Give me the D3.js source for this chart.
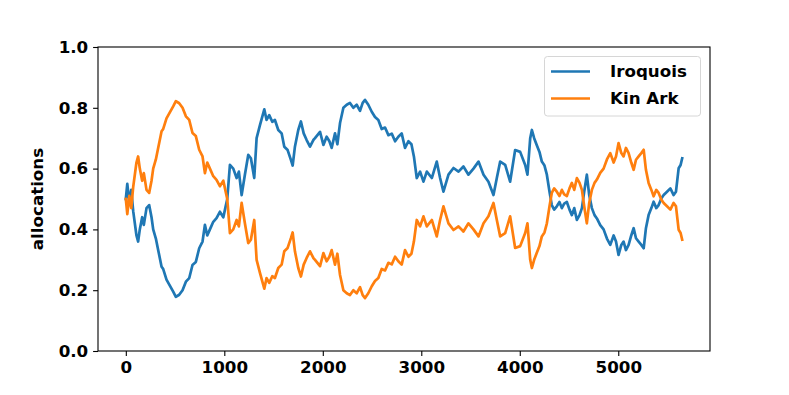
<!DOCTYPE html>
<html>
<head>
<meta charset="utf-8">
<script src="https://cdn.jsdelivr.net/npm/d3@7"></script>
<style>
    body { margin: 0; background: #fff; }
    text { font-family: "DejaVu Sans", sans-serif; font-weight: bold; }
</style>
</head>
<body>
<div id="chart"></div>
<script>
//DATA
const seriesNames = ['Iroquois', 'Kin Ark'];
const seriesColors = ['#1f77b4', '#ff7f0e'];
const xTicks = [0, 1000, 2000, 3000, 4000, 5000];
const yTicks = [0.0, 0.2, 0.4, 0.6, 0.8, 1.0];
const steps = [
    0, 15, 35, 55, 75, 108, 125, 142, 166, 183, 210, 237, 261, 278, 305, 330, 363, 379, 413, 447,
    481, 508, 542, 576, 610, 644, 677, 711, 745, 779, 803, 827, 854, 888, 921, 955, 990, 1010, 1030, 1057,
    1091, 1125, 1148, 1176, 1209, 1243, 1270, 1304, 1328, 1362, 1406, 1429, 1456, 1487, 1514, 1548, 1582, 1609, 1643, 1677,
    1694, 1717, 1751, 1778, 1806, 1836, 1870, 1904, 1921, 1972, 2006, 2039, 2067, 2090, 2124, 2148, 2175, 2209, 2243, 2276,
    2310, 2344, 2378, 2405, 2429, 2462, 2497, 2530, 2564, 2598, 2632, 2666, 2700, 2734, 2767, 2801, 2835, 2869, 2900, 2925,
    2954, 2988, 3022, 3056, 3107, 3157, 3191, 3225, 3276, 3327, 3378, 3428, 3479, 3530, 3581, 3632, 3682, 3733, 3767, 3801,
    3852, 3902, 3953, 4004, 4055, 4078, 4106, 4123, 4146, 4173, 4200, 4224, 4251, 4275, 4302, 4325, 4349, 4376, 4403, 4427,
    4451, 4478, 4505, 4529, 4553, 4580, 4607, 4631, 4654, 4681, 4705, 4732, 4759, 4783, 4817, 4851, 4885, 4919, 4953, 4977,
    5003, 5031, 5054, 5078, 5105, 5132, 5156, 5180, 5207, 5234, 5258, 5281, 5308, 5336, 5359, 5386, 5410, 5437, 5461, 5495,
    5529, 5562, 5586, 5613, 5633, 5649
];
const iroquois = [
    0.500, 0.550, 0.490, 0.530, 0.460, 0.380, 0.360, 0.400, 0.440, 0.415, 0.470, 0.480, 0.440, 0.400, 0.370, 0.330, 0.277, 0.270, 0.235, 0.215,
    0.195, 0.178, 0.185, 0.200, 0.228, 0.240, 0.283, 0.293, 0.338, 0.360, 0.415, 0.380, 0.400, 0.425, 0.437, 0.458, 0.440, 0.470, 0.500, 0.612,
    0.600, 0.569, 0.590, 0.513, 0.580, 0.645, 0.634, 0.569, 0.700, 0.743, 0.795, 0.760, 0.776, 0.754, 0.760, 0.727, 0.716, 0.672, 0.661, 0.628,
    0.610, 0.672, 0.727, 0.755, 0.716, 0.694, 0.672, 0.694, 0.700, 0.721, 0.678, 0.705, 0.690, 0.668, 0.716, 0.680, 0.750, 0.800, 0.810, 0.816,
    0.800, 0.810, 0.790, 0.816, 0.826, 0.810, 0.787, 0.770, 0.760, 0.730, 0.735, 0.710, 0.715, 0.690, 0.705, 0.716, 0.668, 0.690, 0.680, 0.640,
    0.569, 0.590, 0.557, 0.590, 0.569, 0.623, 0.569, 0.524, 0.580, 0.602, 0.590, 0.607, 0.580, 0.600, 0.623, 0.580, 0.557, 0.513, 0.569, 0.623,
    0.612, 0.557, 0.661, 0.655, 0.612, 0.580, 0.700, 0.727, 0.700, 0.677, 0.655, 0.623, 0.610, 0.580, 0.524, 0.480, 0.465, 0.476, 0.490, 0.470,
    0.485, 0.490, 0.465, 0.447, 0.470, 0.431, 0.447, 0.470, 0.524, 0.580, 0.513, 0.470, 0.447, 0.436, 0.414, 0.400, 0.370, 0.349, 0.380, 0.360,
    0.316, 0.349, 0.360, 0.332, 0.349, 0.380, 0.404, 0.371, 0.360, 0.349, 0.338, 0.404, 0.447, 0.470, 0.491, 0.470, 0.480, 0.502, 0.513, 0.524,
    0.535, 0.513, 0.524, 0.601, 0.612, 0.634
];
const kinArk = [
    0.500, 0.450, 0.510, 0.470, 0.540, 0.620, 0.640, 0.600, 0.560, 0.585, 0.530, 0.520, 0.560, 0.600, 0.630, 0.670, 0.723, 0.730, 0.765, 0.785,
    0.805, 0.822, 0.815, 0.800, 0.772, 0.760, 0.717, 0.707, 0.662, 0.640, 0.585, 0.620, 0.600, 0.575, 0.563, 0.542, 0.560, 0.530, 0.500, 0.388,
    0.400, 0.431, 0.410, 0.487, 0.420, 0.355, 0.366, 0.431, 0.300, 0.257, 0.205, 0.240, 0.224, 0.246, 0.240, 0.273, 0.284, 0.328, 0.339, 0.372,
    0.390, 0.328, 0.273, 0.245, 0.284, 0.306, 0.328, 0.306, 0.300, 0.279, 0.322, 0.295, 0.310, 0.332, 0.284, 0.320, 0.250, 0.200, 0.190, 0.184,
    0.200, 0.190, 0.210, 0.184, 0.174, 0.190, 0.213, 0.230, 0.240, 0.270, 0.265, 0.290, 0.285, 0.310, 0.295, 0.284, 0.332, 0.310, 0.320, 0.360,
    0.431, 0.410, 0.443, 0.410, 0.431, 0.377, 0.431, 0.476, 0.420, 0.398, 0.410, 0.393, 0.420, 0.400, 0.377, 0.420, 0.443, 0.487, 0.431, 0.377,
    0.388, 0.443, 0.339, 0.345, 0.388, 0.420, 0.300, 0.273, 0.300, 0.323, 0.345, 0.377, 0.390, 0.420, 0.476, 0.520, 0.535, 0.524, 0.510, 0.530,
    0.515, 0.510, 0.535, 0.553, 0.530, 0.569, 0.553, 0.530, 0.476, 0.420, 0.487, 0.530, 0.553, 0.564, 0.586, 0.600, 0.630, 0.651, 0.620, 0.640,
    0.684, 0.651, 0.640, 0.668, 0.651, 0.620, 0.596, 0.629, 0.640, 0.651, 0.662, 0.596, 0.553, 0.530, 0.509, 0.530, 0.520, 0.498, 0.487, 0.476,
    0.465, 0.487, 0.476, 0.399, 0.388, 0.366
];

//LAYOUT
const W = 789, H = 395;
const plot = { left: 98, right: 710, top: 47, bottom: 351 };
const fontSize = 16.7;

const svg = d3.select('#chart').append('svg').attr('width', W).attr('height', H);

//SCALES
const x = d3.scaleLinear().domain([-282.45, 5931.45]).range([plot.left, plot.right]);
const y = d3.scaleLinear().domain([0, 1]).range([plot.bottom, plot.top]);

//LINES
const line = d3.line().x(d => x(d[0])).y(d => y(d[1]));
svg.append('clipPath').attr('id', 'clip').append('rect')
    .attr('x', plot.left).attr('y', plot.top)
    .attr('width', plot.right - plot.left).attr('height', plot.bottom - plot.top);
[iroquois, kinArk].forEach((values, i) => {
    svg.append('path')
        .datum(steps.map((s, j) => [s, values[j]]))
        .attr('clip-path', 'url(#clip)')
        .attr('fill', 'none')
        .attr('stroke', seriesColors[i])
        .attr('stroke-width', 2.7)
        .attr('stroke-linejoin', 'round')
        .attr('stroke-linecap', 'square')
        .attr('d', line);
});

//AXES
const xAxis = svg.append('g').attr('transform', 'translate(0,' + plot.bottom + ')')
    .call(d3.axisBottom(x).tickValues(xTicks).tickSize(4.9).tickPadding(4.9).tickFormat(d3.format('d')));
const yAxis = svg.append('g').attr('transform', 'translate(' + plot.left + ',0)')
    .call(d3.axisLeft(y).tickValues(yTicks).tickSize(4.9).tickPadding(4.9).tickFormat(d3.format('.1f')));
[xAxis, yAxis].forEach(g => {
    g.select('.domain').remove();
    g.selectAll('.tick line').attr('stroke', '#000').attr('stroke-width', 1.1);
    g.selectAll('.tick text').attr('fill', '#000').style('font-size', fontSize + 'px');
});

// frame
svg.append('rect')
    .attr('x', plot.left).attr('y', plot.top)
    .attr('width', plot.right - plot.left).attr('height', plot.bottom - plot.top)
    .attr('fill', 'none').attr('stroke', '#000').attr('stroke-width', 1.1);

//Y LABEL
svg.append('text')
    .attr('transform', 'translate(43,' + ((plot.top + plot.bottom) / 2) + ') rotate(-90)')
    .attr('text-anchor', 'middle')
    .style('font-size', fontSize + 'px')
    .text('allocations');

//LEGEND
const legend = svg.append('g');
legend.append('rect')
    .attr('x', 544.5).attr('y', 56.5).attr('width', 156).attr('height', 59.5)
    .attr('rx', 3).attr('fill', '#fff').attr('fill-opacity', 0.8)
    .attr('stroke', '#d6d6d6').attr('stroke-width', 1);
seriesNames.forEach((name, i) => {
    const ly = 71.5 + i * 27;
    legend.append('line')
        .attr('x1', 551).attr('x2', 590).attr('y1', ly).attr('y2', ly)
        .attr('stroke', seriesColors[i]).attr('stroke-width', 2.3);
    legend.append('text')
        .attr('x', 610).attr('y', ly).attr('dy', '0.35em')
        .style('font-size', fontSize + 'px')
        .text(name);
});
</script>
</body>
</html>
